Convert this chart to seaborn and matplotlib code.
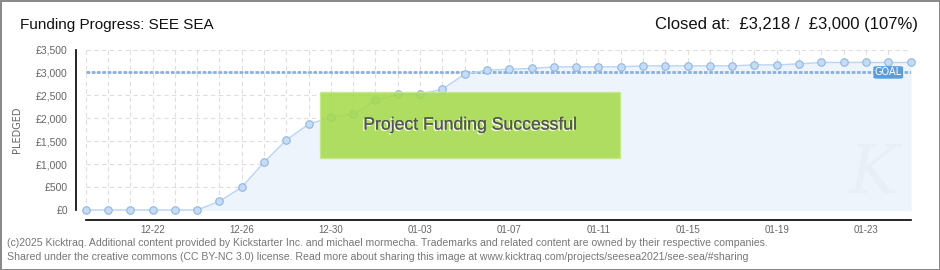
import matplotlib
matplotlib.use("Agg")
import matplotlib.pyplot as plt
import matplotlib.patches as mpatches
import matplotlib.patheffects as pe
from matplotlib.ticker import MultipleLocator, FixedLocator, FuncFormatter
import seaborn as sns
import pandas as pd
import numpy as np

# ---- data ----
dates = pd.date_range("2020-12-19", "2021-01-25", freq="D")
pledged = [0, 0, 0, 0, 0, 0, 190, 500, 1040, 1525, 1873,
           2019, 2091, 2389, 2527, 2527, 2635, 2962, 3049, 3071, 3086,
           3121, 3121, 3121, 3121, 3143, 3143, 3143, 3143, 3143, 3165,
           3165, 3187, 3218, 3218, 3218, 3218, 3218]
goal = 3000
title = "Funding Progress: SEE SEA"
status = "Closed at:  £3,218 /  £3,000 (107%)"
y_ticks = [0, 500, 1000, 1500, 2000, 2500, 3000, 3500]
footer1 = ("(c)2025 Kicktraq. Additional content provided by Kickstarter Inc. and michael mormecha. "
           "Trademarks and related content are owned by their respective companies.")
footer2 = ("Shared under the creative commons (CC BY-NC 3.0) license. Read more about sharing this image at "
           "www.kicktraq.com/projects/seesea2021/see-sea/#sharing")

df = pd.DataFrame({"day": np.arange(len(dates)), "pledged": pledged})
labels = [d.strftime("%m-%d") for d in dates]

sns.set_theme(style="white")
plt.rcParams["font.family"] = ["Liberation Sans", "DejaVu Sans"]

W, H = 940, 270
PT = 72 / 100  # points per pixel
fig = plt.figure(figsize=(W / 100, H / 100), dpi=100)
fig.patch.set_facecolor("white")
fig.patch.set_edgecolor("#8a8a8a")
fig.patch.set_linewidth(2)

x0, x1 = 85.7, 910.5
y0, y1 = 210, 49.5
ax = fig.add_axes([x0 / W, 1 - y0 / H, (x1 - x0) / W, (y0 - y1) / H])
ax.set_facecolor("white")
ax.set_xlim(0, len(dates) - 1)
ax.set_ylim(0, 3500)

# grid
for d in df["day"]:
    ax.axvline(d, color="#dedede", lw=0.8, dashes=(4, 3), zorder=0)
for v in y_ticks:
    ax.axhline(v, color="#dedede", lw=0.8, dashes=(4, 3), zorder=0)

# fill
ax.fill_between(df["day"], df["pledged"], color="#edf4fc", zorder=1)

# watermark
ax.text(0.955, 0.22, "K", transform=ax.transAxes, fontsize=48, color="#e9eff7",
        style="italic", family="DejaVu Serif", ha="center", va="center", zorder=1.5)

# goal line
ax.axhline(goal, color="#8cb0dc", lw=2.0, dashes=(1.3, 0.6), zorder=2)

# line & markers
sns.lineplot(data=df, x="day", y="pledged", ax=ax, color="#b9d5f3", lw=1.0,
             marker="o", markersize=5.4, markerfacecolor="#c4dcf6",
             markeredgecolor="#93b6df", markeredgewidth=0.8, zorder=3, clip_on=False)

# success box
ax.add_patch(mpatches.Rectangle((0.284, 0.324), 0.3637, 0.411, transform=ax.transAxes,
                                facecolor="#a4da48", edgecolor="#c4e88a", lw=1.0,
                                alpha=0.86, zorder=4))
ax.text(0.284 + 0.3637 / 2, 0.324 + 0.411 / 2, "Project Funding Successful",
        transform=ax.transAxes, ha="center", va="center", fontsize=12.7, color="#555555",
        zorder=5, path_effects=[pe.withSimplePatchShadow(offset=(-1, -1), shadow_rgbFace="white", alpha=0.9),
                                pe.Normal()])

# GOAL box
ax.add_patch(mpatches.FancyBboxPatch((0.955, 0.818), 0.036, 0.078, transform=ax.transAxes,
                                     boxstyle="round,pad=0,rounding_size=0.006",
                                     facecolor="#5b9ddc", edgecolor="none", zorder=6, clip_on=False))
ax.text(0.973, 0.857, "GOAL", transform=ax.transAxes, ha="center", va="center",
        fontsize=7, color="white", zorder=7, family="DejaVu Sans")

# axes styling
for s in ["top", "right"]:
    ax.spines[s].set_visible(False)
ax.spines["left"].set_position(("outward", 9.5 * PT))
ax.spines["bottom"].set_position(("outward", 10 * PT))
for s in ["left", "bottom"]:
    ax.spines[s].set_color("black")
    ax.spines[s].set_linewidth(1.2)

ax.xaxis.set_major_locator(FixedLocator(df["day"]))
ax.set_xticklabels([lab if (i % 4 == 3) else "" for i, lab in enumerate(labels)])
ax.tick_params(axis="x", direction="inout", length=7, width=1.0, color="black",
               labelsize=7, labelcolor="#666666", pad=0)

ax.set_yticks(y_ticks)
ax.yaxis.set_major_formatter(FuncFormatter(lambda v, p: f"£{int(v):,}"))
ax.yaxis.set_minor_locator(MultipleLocator(250))
ax.tick_params(axis="y", which="major", direction="out", length=3, width=1.0, color="black",
               labelsize=7.5, labelcolor="#666666", pad=3)
ax.tick_params(axis="y", which="minor", direction="out", length=3, width=1.0, color="#dd0000")
ax.set_xlabel("")
ax.set_ylabel("PLEDGED", fontsize=7, color="#666666", family="DejaVu Sans")
ax.yaxis.set_label_coords((22 - x0) / (x1 - x0), 0.5)

# texts
fig.text(20 / W, 1 - 25 / H, title, fontsize=11, color="#111111", va="center", ha="left")
fig.text(918 / W, 1 - 25 / H, status, fontsize=12, color="#111111", va="center", ha="right")
fig.text(7 / W, 1 - 243 / H, footer1, fontsize=7.6, color="#777777", va="center", ha="left")
fig.text(7 / W, 1 - 257 / H, footer2, fontsize=7.6, color="#777777", va="center", ha="left")

fig.savefig("out.png", dpi=100)
